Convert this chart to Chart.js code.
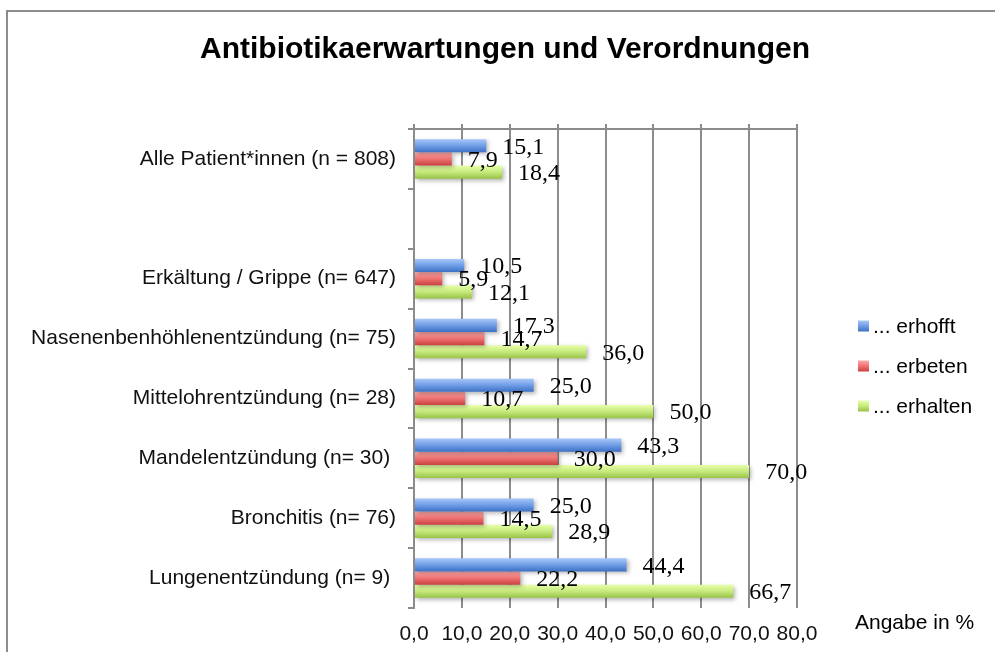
<!DOCTYPE html>
<html>
<head>
<meta charset="utf-8">
<title>Antibiotikaerwartungen und Verordnungen</title>
<script src="https://cdn.jsdelivr.net/npm/chart.js@4.4.1/dist/chart.umd.min.js"></script>
<style>
  html, body { margin: 0; padding: 0; background: #fff; }
  canvas { display: block; }
</style>
</head>
<body>
<canvas id="chart" width="995" height="652"></canvas>
<script>
// --- data ---
const categories = [
  'Alle Patient*innen (n = 808)',
  '',
  'Erkältung / Grippe (n= 647)',
  'Nasenenbenhöhlenentzündung (n= 75)',
  'Mittelohrentzündung (n= 28)',
  'Mandelentzündung (n= 30) ',
  'Bronchitis (n= 76)',
  'Lungenentzündung (n= 9) '
];
const erhofft  = [15.1, null, 10.5, 17.3, 25.0, 43.3, 25.0, 44.4];
const erbeten  = [7.9,  null, 5.9,  14.7, 10.7, 30.0, 14.5, 22.2];
const erhalten = [18.4, null, 12.1, 36.0, 50.0, 70.0, 28.9, 66.7];
const seriesNames = ['... erhofft', '... erbeten', '... erhalten'];
const xTickValues = [0, 10, 20, 30, 40, 50, 60, 70, 80];

const titleText = 'Antibiotikaerwartungen und Verordnungen';
const unitText = 'Angabe in %';

// --- styling ---
const GRID = '#8c8c8c';
const SANS = "'Liberation Sans', Arial, sans-serif";
const SERIF = "'Liberation Serif', 'Times New Roman', serif";
const GRAD = [
  ['#a8c7f8', '#6f9de6', '#3d71c5'],
  ['#ffaaaa', '#ef7272', '#c94040'],
  ['#e8ffaa', '#c6e97c', '#97c347']
];

const fmt = v => v.toFixed(1).replace('.', ',');

function barGradient(ctx, top, bottom, stops) {
  const g = ctx.createLinearGradient(0, top, 0, bottom);
  g.addColorStop(0, stops[0]);
  g.addColorStop(0.5, stops[1]);
  g.addColorStop(1, stops[2]);
  return g;
}

const decorPlugin = {
  id: 'decor',
  beforeDraw(chart) {
    const ctx = chart.ctx;
    ctx.save();
    ctx.fillStyle = '#fff';
    ctx.fillRect(0, 0, chart.width, chart.height);
    ctx.strokeStyle = GRID;
    ctx.lineWidth = 2;
    ctx.strokeRect(7, 11, chart.width + 20, chart.height + 20);
    ctx.restore();
  },
  beforeDatasetsDraw(chart) {
    const ctx = chart.ctx;
    chart.data.datasets.forEach((ds, i) => {
      chart.getDatasetMeta(i).data.forEach((el, j) => {
        if (ds.data[j] == null || !isFinite(el.y) || !isFinite(el.height)) return;
        const top = el.y - el.height / 2;
        el.options.backgroundColor = barGradient(ctx, top, top + el.height, GRAD[i]);
      });
    });
    ctx.save();
    ctx.shadowColor = 'rgba(0,0,0,0.28)';
    ctx.shadowBlur = 4;
    ctx.shadowOffsetX = 2;
    ctx.shadowOffsetY = 2;
  },
  afterDatasetsDraw(chart) {
    const ctx = chart.ctx;
    ctx.restore();
    ctx.save();
    ctx.font = '24px ' + SERIF;
    ctx.fillStyle = '#000';
    ctx.textAlign = 'left';
    ctx.textBaseline = 'middle';
    chart.data.datasets.forEach((ds, i) => {
      chart.getDatasetMeta(i).data.forEach((el, j) => {
        const v = ds.data[j];
        if (v == null) return;
        ctx.fillText(fmt(v), el.x + 16, el.y + 1.5);
      });
    });
    ctx.restore();
  },
  afterDraw(chart) {
    const ctx = chart.ctx;
    ctx.save();
    // title
    ctx.fillStyle = '#000';
    ctx.font = 'bold 30px ' + SANS;
    ctx.textAlign = 'center';
    ctx.textBaseline = 'middle';
    ctx.fillText(titleText, 505, 50);
    // legend
    ctx.font = '21px ' + SANS;
    ctx.textAlign = 'left';
    seriesNames.forEach((name, i) => {
      const cy = 326 + i * 40;
      ctx.fillStyle = barGradient(ctx, cy - 5.5, cy + 5.5, GRAD[i]);
      ctx.fillRect(858, cy - 5.5, 11, 11);
      ctx.fillStyle = '#000';
      ctx.fillText(name, 873, cy + 1);
    });
    // unit note
    ctx.fillText(unitText, 855, 623);
    ctx.restore();
  }
};

new Chart(document.getElementById('chart'), {
  type: 'bar',
  data: {
    labels: categories,
    datasets: [
      { label: seriesNames[0], data: erhofft },
      { label: seriesNames[1], data: erbeten },
      { label: seriesNames[2], data: erhalten }
    ].map((d, i) => Object.assign(d, {
      backgroundColor: () => GRAD[i][1],
      borderWidth: 0,
      categoryPercentage: 0.66,
      barPercentage: 1.0
    }))
  },
  options: {
    indexAxis: 'y',
    responsive: false,
    animation: false,
    layout: { padding: { top: 124, right: 198, bottom: 0, left: 0 } },
    plugins: {
      legend: { display: false },
      title: { display: false },
      tooltip: { enabled: false }
    },
    scales: {
      y: {
        grid: { drawOnChartArea: false, color: GRID, lineWidth: 2, tickLength: 6 },
        border: { color: GRID, width: 2 },
        ticks: { color: '#111', font: { family: SANS, size: 21 }, padding: 12, autoSkip: false },
        afterFit(s) { s.width = 414; }
      },
      x: {
        min: 0,
        max: 80,
        grid: { color: GRID, lineWidth: 2, drawTicks: false },
        border: { display: false },
        ticks: { color: '#111', font: { family: SANS, size: 21 }, padding: 14, callback: v => fmt(v) },
        afterBuildTicks(s) { s.ticks = xTickValues.map(v => ({ value: v })); },
        afterFit(s) { s.height = 44; }
      },
      xt: {
        type: 'linear',
        position: 'top',
        min: 0,
        max: 80,
        grid: { drawOnChartArea: false, color: GRID, lineWidth: 2, tickLength: 5 },
        border: { color: GRID, width: 2 },
        ticks: { display: false },
        afterBuildTicks(s) { s.ticks = xTickValues.map(v => ({ value: v })); },
        afterFit(s) { s.height = 5; }
      }
    }
  },
  plugins: [decorPlugin]
});
</script>
</body>
</html>
